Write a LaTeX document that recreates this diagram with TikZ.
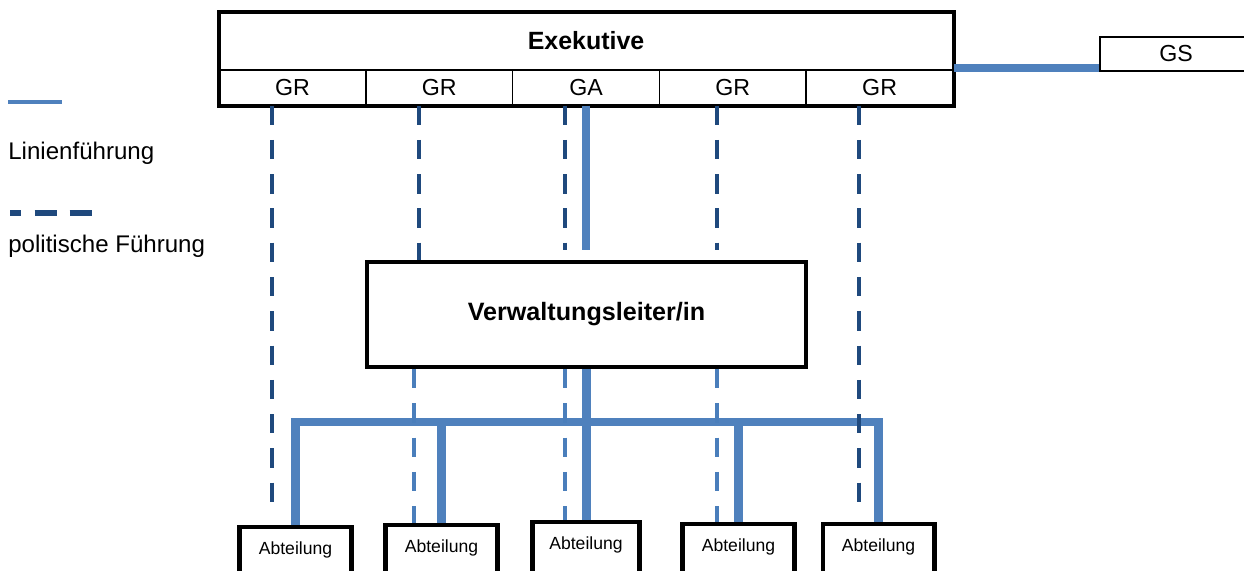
\documentclass[tikz,border=0pt]{standalone}
\usepackage{fontspec}
\setmainfont{Liberation Sans}
\usetikzlibrary{positioning, calc}
\definecolor{lineBlue}{RGB}{79,129,189}
\definecolor{darkBlue}{RGB}{31,73,125}
\definecolor{lightBlue}{RGB}{74,126,187}
\tikzstyle{frameNode}=[draw, line width=2.3pt, inner sep=0pt]
\tikzstyle{cellNode}=[draw, line width=0.8pt, minimum width=2.936cm, minimum height=0.7cm, inner sep=0pt, font=\fontsize{13.2}{15}\selectfont]
\tikzstyle{deptNode}=[frameNode, anchor=north, minimum width=2.24cm, text height=0.55cm, text depth=0.8cm, font=\fontsize{10}{12}\selectfont]
\tikzstyle{legendText}=[anchor=west, inner sep=0pt, font=\fontsize{13.7}{16}\selectfont]
\tikzstyle{lineLead}=[lineBlue, line width=4.8pt]
\tikzstyle{polLead}=[darkBlue, line width=2.3pt, dash pattern=on 11pt off 8.5pt]
\tikzstyle{polLeadLight}=[polLead, lightBlue]

\begin{document}
\begin{tikzpicture}[x=0.02cm, y=-0.02cm]
        \useasboundingbox (0, 0) rectangle (1244, 571);
        \clip (0, 0) rectangle (1244, 571);

        % Exekutive
        \node[inner sep=0pt, minimum width=14.68cm, minimum height=1.16cm, font=\bfseries\fontsize{14.2}{16}\selectfont] (exek) at (586, 41) {Exekutive};
        \node[cellNode] (gr1) at (292.4, 87.5) {GR};
        \node[cellNode] (gr2) at (439.2, 87.5) {GR};
        \node[cellNode] (ga) at (586, 87.5) {GA};
        \node[cellNode] (gr4) at (732.8, 87.5) {GR};
        \node[cellNode] (gr5) at (879.6, 87.5) {GR};
        \draw[line width=2.3pt] (exek.north west) rectangle (gr5.south east);

        \node[draw, line width=1.1pt, minimum width=3.04cm, minimum height=0.68cm, inner sep=0pt, font=\fontsize{13.2}{15}\selectfont] (gs) at (1176, 54) {GS};

        \node[frameNode, minimum width=8.78cm, minimum height=2.1cm, font=\bfseries\fontsize{14.3}{16}\selectfont] (vl) at (586.5, 314.5) {Verwaltungsleiter/in};

        % Abteilungen
        \node[deptNode] (ab1) at (295.5, 525) {Abteilung};
        \node[deptNode] (ab2) at (441.5, 523) {Abteilung};
        \node[deptNode, minimum width=2.14cm] (ab3) at (586, 520) {Abteilung};
        \node[deptNode] (ab4) at (738.5, 522) {Abteilung};
        \node[deptNode] (ab5) at (878.5, 522) {Abteilung};

        \coordinate (bar) at (586, 422);

        % Linienfuehrung
        \draw[lineLead] ([yshift=0.08cm]gs.south west) -- ([yshift=0.08cm]gs.south west -| gr5.east);
        \draw[lineLead] (ga.south) -- ([yshift=0.2cm]ga.south |- vl.north);
        \draw[lineLead] (vl.south) -- (vl.south |- ab3.north);
        \draw[lineLead] (ab1.north) |- (bar) -| (ab5.north);
        \draw[lineLead] (ab2.north) -- (ab2.north |- bar);
        \draw[lineLead] (ab4.north) -- (ab4.north |- bar);

        % politische Fuehrung
        \draw[polLead] ([xshift=-0.4cm]gr1.south) -- ([xshift=-0.4cm, yshift=0.2cm]gr1.south |- ab1.north);
        \draw[polLead] ([xshift=-0.4cm]gr2.south) -- ([xshift=-0.4cm]gr2.south |- vl.north);
        \draw[polLead] ([xshift=-0.42cm]ga.south) -- ([xshift=-0.42cm, yshift=0.2cm]ga.south |- vl.north);
        \draw[polLead] ([xshift=-0.32cm]gr4.south) -- ([xshift=-0.32cm, yshift=0.2cm]gr4.south |- vl.north);
        \draw[polLead] ([xshift=-0.42cm]gr5.south) -- ([xshift=-0.42cm, yshift=0.2cm]gr5.south |- ab5.north);

        \draw[polLeadLight] ([xshift=-0.5cm]gr2.south |- vl.south) -- ([xshift=-0.5cm]gr2.south |- ab2.north);
        \draw[polLeadLight] ([xshift=-0.42cm]ga.south |- vl.south) -- ([xshift=-0.42cm]ga.south |- ab3.north);
        \draw[polLeadLight] ([xshift=-0.32cm]gr4.south |- vl.south) -- ([xshift=-0.32cm]gr4.south |- ab4.north);

        % Legende
        \coordinate (legLineA) at (8, 102);
        \coordinate (legLineB) at (62, 102);
        \draw[lineLead, line width=2.6pt] (legLineA) -- (legLineB);
        \node[legendText] (legLine) at (8, 153) {Linienführung};

        \coordinate (legDashA) at (10, 213);
        \coordinate (legDashB) at (92, 213);
        \draw[polLead, line width=3pt, dash pattern=on 12.5pt off 7.5pt, dash phase=6pt] (legDashA) -- (legDashB);
        \node[legendText] (legPol) at (8, 246) {politische Führung};
\end{tikzpicture}
\end{document}
